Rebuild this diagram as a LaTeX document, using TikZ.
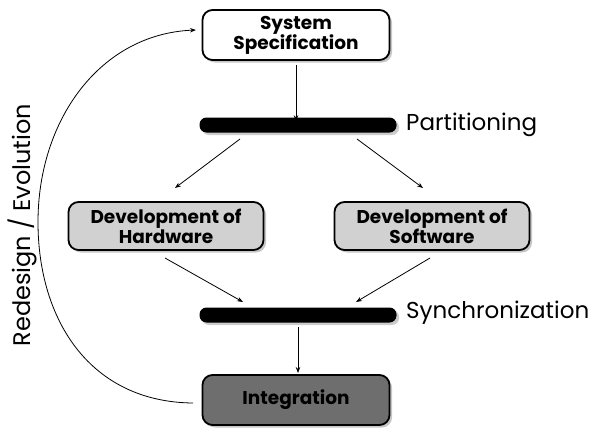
\documentclass[tikz,border=0pt]{standalone}
\usepackage{fontspec}
\setmainfont{Poppins}
\usetikzlibrary{shadows,arrows.meta}
\begin{document}
\begin{tikzpicture}[x=1pt,y=-1pt,
  box/.style={draw=black,line width=1.8pt,rounded corners=10pt,minimum width=187pt,minimum height=50pt,
    align=center,font=\fontsize{18.5}{20}\selectfont\bfseries,inner sep=2pt,
    drop shadow={shadow xshift=2.5pt,shadow yshift=-2.5pt,opacity=0.45}},
  bar/.style={fill=black,rounded corners=7pt,minimum width=197pt,minimum height=15pt,inner sep=0pt,
    drop shadow={shadow xshift=2.5pt,shadow yshift=-2.5pt,opacity=0.4}},
  lab/.style={anchor=west,font=\fontsize{23}{25}\selectfont,inner sep=0pt},
  arr/.style={-{Stealth[length=6pt,width=4.5pt]},line width=0.8pt}]
\useasboundingbox (0,0) rectangle (596,434);

% process boxes
\node[box,fill=white] (spec) at (296,35) {System\\Specification};
\node[box,fill=black!18,minimum width=195pt,minimum height=48pt] (hw) at (166,226) {Development of\\Hardware};
\node[box,fill=black!18,minimum width=195pt,minimum height=48pt] (sw) at (432,226) {Development of\\Software};
\node[box,fill=black!57] (integ) at (296,400) {Integration};

% fork / join bars
\node[bar] (part) at (298,125) {};
\node[bar] (sync) at (298,315) {};
\node[lab] (partlab) at (406,125) {Partitioning};
\node[lab] (synclab) at (406,313) {Synchronization};

% flow
\draw[arr] (spec.south) ++(0,4) coordinate (s0) (s0) -- ([yshift=-4pt]part.north -| s0);
\coordinate (p1) at (240,139);
\coordinate (p2) at (357,139);
\draw[arr] (p1) -- (175,188) coordinate (h0);
\draw[arr] (p2) -- (423,188) coordinate (w0);
\coordinate (h1) at (165,258);
\coordinate (w1) at (430,258);
\draw[arr] (h1) -- (243,302) coordinate (j1);
\draw[arr] (w1) -- (356,302) coordinate (j2);
\coordinate (q0) at (298,327);
\draw[arr] (q0) -- (298,373) coordinate (q1);

% feedback loop
\coordinate (fb0) at (193,403);
\coordinate (fb1) at (38,222);
\coordinate (fb2) at (196,30);
\draw[arr] (fb0) .. controls (90,402) and (38,320) .. (fb1)
  .. controls (38,120) and (100,34) .. (fb2);
\node[rotate=90,font=\fontsize{24}{26}\selectfont,inner sep=0pt] (redes) at (22,225) {Redesign / Evolution};
\end{tikzpicture}
\end{document}
